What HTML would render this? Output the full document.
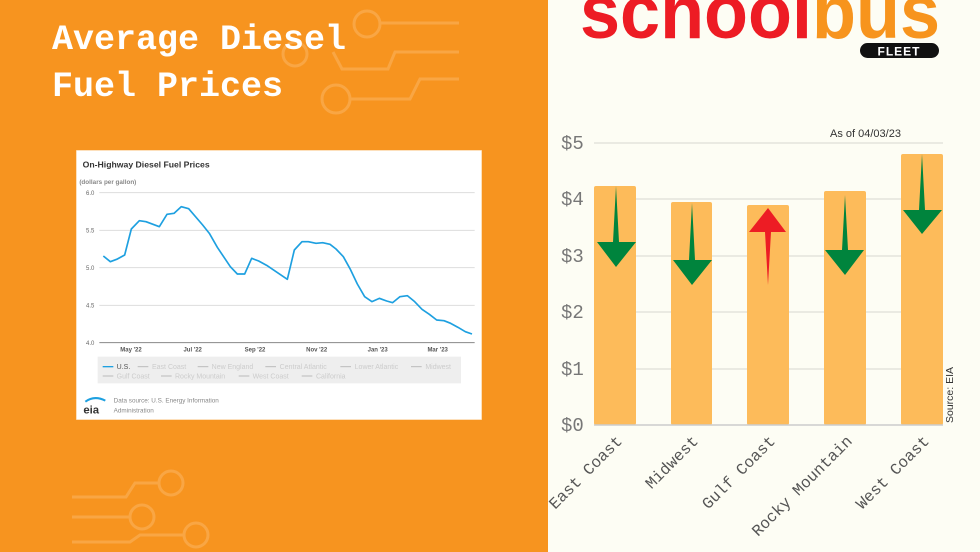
<!DOCTYPE html>
<html><head><meta charset="utf-8"><style>
html,body{margin:0;padding:0}
body{width:980px;height:552px;overflow:hidden;background:#FDFDF4;position:relative;font-family:"Liberation Sans",sans-serif}
</style></head><body>
<svg width="980" height="552" viewBox="0 0 980 552" style="position:absolute;left:0;top:0">
<rect x="0" y="0" width="548" height="552" fill="#F7941F"/>
<g fill="none" stroke="#F9A644" stroke-width="3">
<circle cx="367" cy="24" r="13"/><line x1="380" y1="23" x2="459" y2="23"/>
<circle cx="295" cy="54" r="12"/><polyline points="333,52 342,69 388,69 395,52 459,52"/>
<circle cx="336" cy="99" r="14"/><polyline points="350,99 410,99 420,79 459,79"/>
<polyline points="72,497 126,497 135,483 159,483"/><circle cx="171" cy="483" r="12"/>
<line x1="72" y1="517" x2="130" y2="517"/><circle cx="142" cy="517" r="12"/>
<polyline points="72,542 130,542 140,535 184,535"/><circle cx="196" cy="535" r="12"/>
</g>
<text x="52" y="49" font-family="Liberation Mono,monospace" font-weight="bold" font-size="35" fill="#fff">Average Diesel</text>
<text x="52" y="96" font-family="Liberation Mono,monospace" font-weight="bold" font-size="35" fill="#fff">Fuel Prices</text>
</svg>

<svg width="406" height="270" viewBox="0 0 1218 810" style="position:absolute;left:76px;top:150px">
<rect x="0" y="0" width="1218" height="810" fill="#fff" stroke="#FBC27A" stroke-width="3"/>
<text x="20" y="52" font-size="26" font-weight="bold" fill="#333">On-Highway Diesel Fuel Prices</text>
<text x="10" y="102" font-size="19" font-weight="bold" fill="#888">(dollars per gallon)</text>
<g stroke="#ddd" stroke-width="3"><line x1="70" y1="128" x2="1196" y2="128"/><line x1="70" y1="241" x2="1196" y2="241"/><line x1="70" y1="353" x2="1196" y2="353"/><line x1="70" y1="466" x2="1196" y2="466"/></g>
<line x1="70" y1="578" x2="1196" y2="578" stroke="#888" stroke-width="3"/>
<g font-size="18" fill="#666" text-anchor="end"><text x="55" y="135">6.0</text><text x="55" y="248">5.5</text><text x="55" y="360">5.0</text><text x="55" y="473">4.5</text><text x="55" y="585">4.0</text></g>
<g font-size="18" fill="#555" text-anchor="middle" font-weight="bold"><text x="165" y="605">May '22</text><text x="350" y="605">Jul '22</text><text x="537" y="605">Sep '22</text><text x="722" y="605">Nov '22</text><text x="905" y="605">Jan '23</text><text x="1085" y="605">Mar '23</text></g>
<polyline fill="none" stroke="#1EA0E0" stroke-width="5" stroke-linejoin="round" points="82,318 103,335 122,328 146,315 166,237 190,212 210,215 250,230 273,193 294,190 316,170 338,176 380,225 400,250 424,292 463,350 484,372 506,372 527,325 548,333 572,346 634,388 655,300 678,275 697,275 720,280 740,278 762,283 780,297 802,320 822,356 844,402 866,440 888,455 910,445 932,453 950,458 972,440 994,437 1016,455 1038,478 1060,493 1082,510 1104,512 1124,520 1146,532 1168,545 1188,552"/>
<rect x="65" y="620" width="1090" height="80" fill="#EEEEEE"/>
<line x1="80" y1="650" x2="112" y2="650" stroke="#1EA0E0" stroke-width="4"/>
<text x="122" y="657" font-size="21" fill="#555">U.S.</text>
<g font-size="21" fill="#ccc"><text x="228" y="657">East Coast</text><text x="407" y="657">New England</text><text x="611" y="657">Central Atlantic</text><text x="836" y="657">Lower Atlantic</text><text x="1048" y="657">Midwest</text><text x="122" y="685">Gulf Coast</text><text x="297" y="685">Rocky Mountain</text><text x="530" y="685">West Coast</text><text x="720" y="685">California</text></g>
<g stroke="#bbb" stroke-width="3"><line x1="185" y1="650" x2="217" y2="650"/><line x1="365" y1="650" x2="397" y2="650"/><line x1="568" y1="650" x2="600" y2="650"/><line x1="793" y1="650" x2="825" y2="650"/><line x1="1005" y1="650" x2="1037" y2="650"/><line x1="80" y1="678" x2="112" y2="678"/><line x1="255" y1="678" x2="287" y2="678"/><line x1="488" y1="678" x2="520" y2="678"/><line x1="677" y1="678" x2="709" y2="678"/></g>
<path d="M28,755 Q55,735 88,752" fill="none" stroke="#1EA0E0" stroke-width="6"/>
<text x="22" y="790" font-size="34" font-weight="bold" fill="#333">eia</text>
<text x="113" y="758" font-size="19" fill="#888">Data source: U.S. Energy Information</text>
<text x="113" y="787" font-size="19" fill="#888">Administration</text>
</svg>

<svg width="432" height="552" viewBox="548 0 432 552" style="position:absolute;left:548px;top:0">
<text x="580" y="38" font-size="76" font-weight="bold" fill="#ED1C24" textLength="232" lengthAdjust="spacingAndGlyphs">school</text>
<text x="812" y="38" font-size="76" font-weight="bold" fill="#F7941D" textLength="128" lengthAdjust="spacingAndGlyphs">bus</text>
<rect x="860" y="43" width="79" height="15" rx="7.5" fill="#111"/>
<text x="899" y="55.5" font-size="12" font-weight="bold" fill="#fff" text-anchor="middle" letter-spacing="1">FLEET</text>
<g stroke="#e4e4dc" stroke-width="1.5"><line x1="594" y1="143" x2="943" y2="143"/><line x1="594" y1="199" x2="943" y2="199"/><line x1="594" y1="256" x2="943" y2="256"/><line x1="594" y1="312" x2="943" y2="312"/><line x1="594" y1="369" x2="943" y2="369"/></g>
<g fill="#FDBB5A"><rect x="594" y="186" width="42" height="239" rx="2"/><rect x="671" y="202" width="41" height="223" rx="2"/><rect x="747" y="205" width="42" height="220" rx="2"/><rect x="824" y="191" width="42" height="234" rx="2"/><rect x="901" y="154" width="42" height="271" rx="2"/></g>
<line x1="594" y1="425" x2="943" y2="425" stroke="#ccc" stroke-width="1.5"/>
<g fill="#00843D">
<polygon points="616,186 619,242 636,242 616,267 597,242 613,242"/>
<polygon points="692,203 695,260 712,260 692,285 673,260 689,260"/>
<polygon points="845,195 848,250 864,250 845,275 825,250 842,250"/>
<polygon points="922,154 925,210 942,210 922,234 903,210 919,210"/>
</g>
<polygon fill="#ED1C24" points="768,208 786,232 771,232 768,285 765,232 749,232"/>
<g font-family="Liberation Mono,monospace" font-size="19" fill="#777"><text x="561" y="149">$5</text><text x="561" y="205">$4</text><text x="561" y="262">$3</text><text x="561" y="318">$2</text><text x="561" y="375">$1</text><text x="561" y="431">$0</text></g>
<text x="830" y="137" font-size="11" fill="#333">As of 04/03/23</text>
<text transform="translate(953,423) rotate(-90)" font-size="10.5" fill="#333">Source: EIA</text>
<g font-family="Liberation Mono,monospace" font-size="16" fill="#555" text-anchor="end">
<text transform="translate(623,442) rotate(-45)">East Coast</text>
<text transform="translate(699,442) rotate(-45)">Midwest</text>
<text transform="translate(776,442) rotate(-45)">Gulf Coast</text>
<text transform="translate(853,442) rotate(-45)">Rocky Mountain</text>
<text transform="translate(930,442) rotate(-45)">West Coast</text>
</g>
</svg>
</body></html>
